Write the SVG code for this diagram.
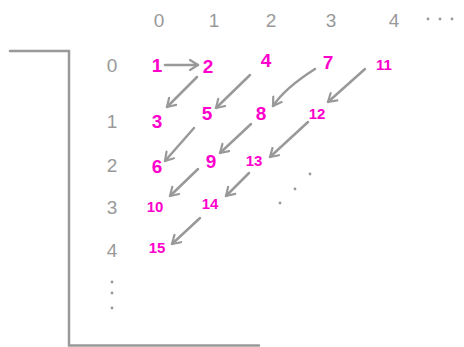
<svg xmlns="http://www.w3.org/2000/svg" width="464" height="347" viewBox="0 0 464 347">
<style>
.hdr{font-family:"Liberation Sans","DejaVu Sans",sans-serif;font-size:19px;fill:#999;text-anchor:middle}
.num{font-family:"Liberation Sans","DejaVu Sans",sans-serif;font-size:19px;font-weight:bold;fill:#ff00cc;text-anchor:middle}
.small{font-size:15px}
.ln{stroke:#999;stroke-width:2.5;fill:none;stroke-linecap:round}
.dot{fill:#999}
</style>
<defs>
<marker id="ah" viewBox="0 0 12 12" refX="10" refY="6" markerWidth="12" markerHeight="12" markerUnits="userSpaceOnUse" orient="auto">
<path d="M2,1 L10,6 L2,11" fill="none" stroke="#999" stroke-width="2.2" stroke-linecap="round" stroke-linejoin="round"/>
</marker>
</defs>
<g id="frame">
<path class="ln" d="M10,51 H69 V345.5 H259"/>
</g>
<g id="col-headers">
<text class="hdr" x="159" y="27">0</text>
<text class="hdr" x="214" y="27">1</text>
<text class="hdr" x="271" y="27">2</text>
<text class="hdr" x="331" y="27">3</text>
<text class="hdr" x="394" y="27">4</text>
<circle class="dot" cx="428" cy="19" r="1.4"/>
<circle class="dot" cx="440" cy="19" r="1.4"/>
<circle class="dot" cx="452" cy="19" r="1.4"/>
</g>
<g id="row-headers">
<text class="hdr" x="112" y="72">0</text>
<text class="hdr" x="112" y="128">1</text>
<text class="hdr" x="112" y="172">2</text>
<text class="hdr" x="112" y="214">3</text>
<text class="hdr" x="112" y="257">4</text>
<circle class="dot" cx="112" cy="282" r="1.4"/>
<circle class="dot" cx="112" cy="293" r="1.4"/>
<circle class="dot" cx="112" cy="308" r="1.4"/>
</g>
<g id="n1"><text class="num" x="157" y="72">1</text></g>
<g id="n2"><text class="num" x="208" y="73">2</text></g>
<g id="n3"><text class="num" x="157" y="128">3</text></g>
<g id="n4"><text class="num" x="266" y="67">4</text></g>
<g id="n5"><text class="num" x="207" y="120">5</text></g>
<g id="n6"><text class="num" x="157" y="173">6</text></g>
<g id="n7"><text class="num" x="328" y="69">7</text></g>
<g id="n8"><text class="num" x="261" y="120">8</text></g>
<g id="n9"><text class="num" x="211" y="168">9</text></g>
<g id="n10"><text class="num small" x="155" y="212">10</text></g>
<g id="n11"><text class="num small" x="384" y="70">11</text></g>
<g id="n12"><text class="num small" x="317" y="119">12</text></g>
<g id="n13"><text class="num small" x="254" y="166">13</text></g>
<g id="n14"><text class="num small" x="210" y="209">14</text></g>
<g id="n15"><text class="num small" x="157" y="253">15</text></g>
<g id="connectors">
<path class="ln" marker-end="url(#ah)" d="M165,65 L198,65"/>
<path class="ln" marker-end="url(#ah)" d="M197,77 L167,107"/>
<path class="ln" marker-end="url(#ah)" d="M250,75 L216,108"/>
<path class="ln" marker-end="url(#ah)" d="M315,69 Q285,88 273,106"/>
<path class="ln" marker-end="url(#ah)" d="M365,69 L328,102"/>
<path class="ln" marker-end="url(#ah)" d="M194,128 L165,161"/>
<path class="ln" marker-end="url(#ah)" d="M251,124 L220,153"/>
<path class="ln" marker-end="url(#ah)" d="M308,122 L270,157"/>
<path class="ln" marker-end="url(#ah)" d="M198,169 L170,196"/>
<path class="ln" marker-end="url(#ah)" d="M249,173 L226,196"/>
<path class="ln" marker-end="url(#ah)" d="M200,218 L172,244"/>
</g>
<g id="diag-dots">
<circle class="dot" cx="310" cy="174" r="1.4"/>
<circle class="dot" cx="295" cy="189" r="1.4"/>
<circle class="dot" cx="280" cy="203" r="1.4"/>
</g>
</svg>
